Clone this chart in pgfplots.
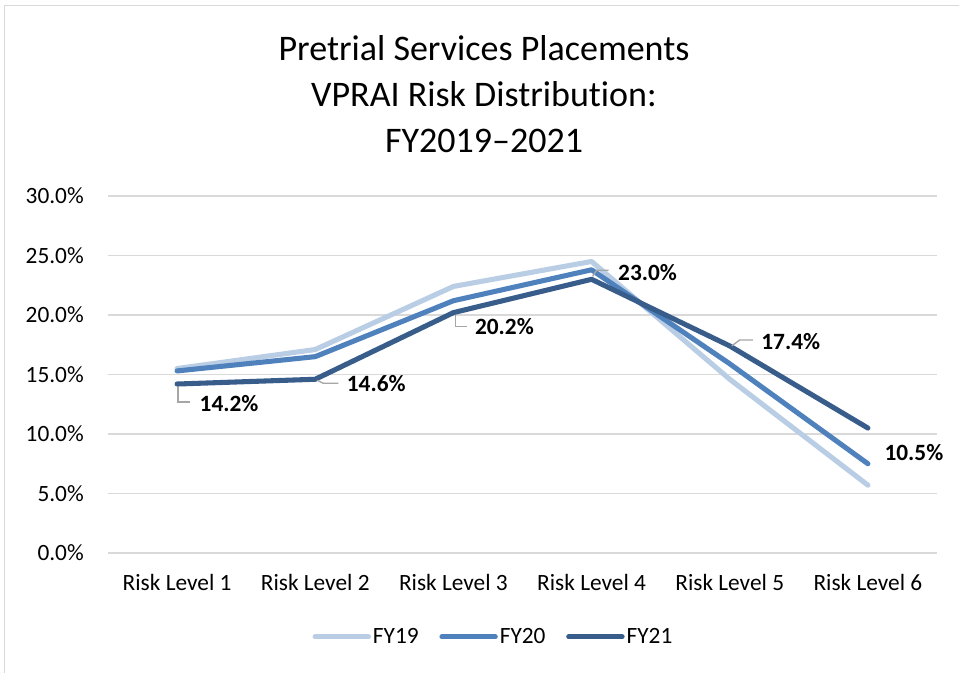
\documentclass[border=0pt]{standalone}
\usepackage{pgfplots}
\pgfplotsset{compat=1.18}
\usepackage{fontspec}
\setmainfont[Ligatures=NoCommon]{Carlito}
\definecolor{cA}{HTML}{B9CDE5}
\definecolor{cB}{HTML}{4F81BD}
\definecolor{cC}{HTML}{385D8A}
\definecolor{gridc}{HTML}{D9D9D9}
\definecolor{leadc}{HTML}{A6A6A6}
\pgfplotstableread{
x y dx dy
0 14.2 39 -15
1 14.6 45.75 -3
2 20.2 38.25 -10.5
3 23.0 42 5.25
4 17.4 45.75 3
5 10.5 34.5 -18
}\fyone
\begin{document}
\begin{tikzpicture}
\path[use as bounding box] (-81pt,-89.25pt) rectangle (638.25pt,414.75pt);
\fill[white] (-81pt,-89.25pt) rectangle (638.25pt,414.75pt);
\draw[gridc, line width=1pt] (-77.6pt,-95pt) -- (-77.6pt,410.6pt) -- (645pt,410.6pt);
\begin{axis}[
  scale only axis,
  width=621.75pt, height=267.75pt,
  xmin=-0.5, xmax=5.5, ymin=0, ymax=30,
  xtick={0,1,2,3,4,5},
  xticklabels={Risk Level 1,Risk Level 2,Risk Level 3,Risk Level 4,Risk Level 5,Risk Level 6},
  ytick={0,5,10,15,20,25,30},
  yticklabel={\pgfmathprintnumber[fixed,fixed zerofill,precision=1]{\tick}\%},
  /pgf/number format/assume math mode=true,
  axis line style={draw=none},
  major tick length=0pt,
  ymajorgrids,
  grid style={gridc, line width=0.9pt},
  tick label style={font=\fontsize{17.5}{21}\selectfont, text=black},
  yticklabel style={anchor=east, inner sep=0pt, xshift=-18pt},
  xticklabel style={anchor=base, inner sep=0pt, yshift=-28pt},
  legend columns=3,
  legend style={at={(0.465,-0.235)}, anchor=center, draw=none, fill=none,
    font=\fontsize{17.5}{21}\selectfont,
    nodes={inner sep=1.5pt},
    /tikz/every even column/.append style={column sep=14pt},
    inner sep=0pt},
  legend image code/.code={\draw[#1, line cap=round] (0pt,0pt) -- (40pt,0pt);},
  every axis plot/.append style={line width=3.8pt, line cap=round, line join=round, mark=none},
]
\addplot[cA] coordinates {(0,15.5) (1,17.1) (2,22.4) (3,24.5) (4,14.6) (5,5.7)};
\addlegendentry{FY19}
\addplot[cB] coordinates {(0,15.3) (1,16.5) (2,21.2) (3,23.8) (4,15.9) (5,7.5)};
\addlegendentry{FY20}
\addplot[cC,
  nodes near coords={\pgfmathprintnumber[fixed,fixed zerofill,precision=1]{\pgfplotspointmeta}\%},
  point meta=y,
  visualization depends on={\thisrow{dx}\as\mydx},
  visualization depends on={\thisrow{dy}\as\mydy},
  every node near coord/.append style={anchor=center, inner sep=0pt,
    font=\fontsize{17.5}{21}\selectfont\bfseries, text=black,
    xshift=\mydx pt, yshift=\mydy pt},
] table[x=x,y=y] {\fyone};
\addlegendentry{FY21}
\draw[leadc, line width=1pt] (axis cs:0,14.2) ++(0.75pt,-2.25pt) -- ++(0pt,-11.25pt) -- ++(9pt,0pt);
\draw[leadc, line width=1pt] (axis cs:1,14.6) ++(1.5pt,-0.75pt) -- ++(4.5pt,-2.25pt) -- ++(11.25pt,0pt);
\draw[leadc, line width=1pt] (axis cs:2,20.2) ++(1.5pt,-1.5pt) -- ++(0pt,-9pt) -- ++(9pt,0pt);
\draw[leadc, line width=1pt] (axis cs:3,23.0) ++(0.75pt,2.25pt) -- ++(3pt,4.5pt) -- ++(9pt,0pt);
\draw[leadc, line width=1pt] (axis cs:4,17.4) ++(1.5pt,0pt) -- ++(6pt,4.5pt) -- ++(9.75pt,0pt);
\end{axis}
\node[font=\fontsize{27}{32}\selectfont, text=black] at (282pt,378.75pt) {Pretrial Services Placements};
\node[font=\fontsize{27}{32}\selectfont, text=black] at (282pt,344pt) {VPRAI Risk Distribution:};
\node[font=\fontsize{27}{32}\selectfont, text=black] at (282pt,309pt) {FY2019–2021};
\end{tikzpicture}
\end{document}
